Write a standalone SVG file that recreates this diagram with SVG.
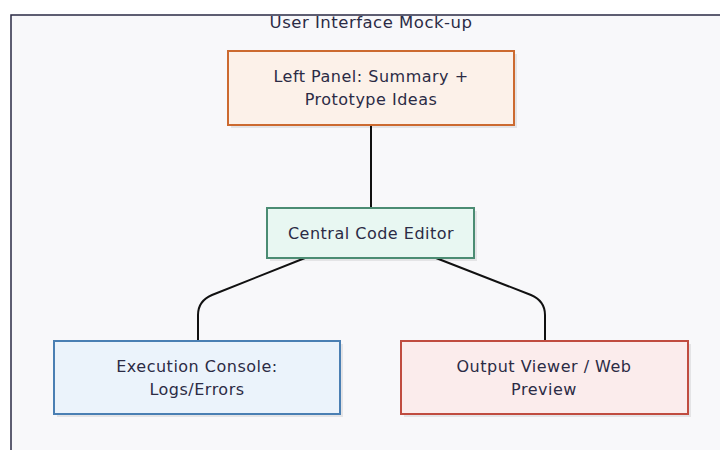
<svg xmlns="http://www.w3.org/2000/svg" width="720" height="450" viewBox="0 0 720 450">
<style>
text{font-family:"DejaVu Sans",sans-serif;font-size:16px;letter-spacing:0.5px;fill:#2b2b45;text-anchor:middle}
.title{font-size:16.5px}
.shadow{fill:#000;opacity:0.08}
.edge{fill:none;stroke:#111;stroke-width:2}
</style>
<rect width="720" height="450" fill="#fff"/>
<rect x="11" y="15" width="720" height="450" fill="#f8f8fa" stroke="#2a2a44" stroke-width="1.5"/>
<text class="title" x="371" y="28">User Interface Mock-up</text>
<g id="connectors">
<path class="edge" d="M371 125 V208"/>
<path class="edge" d="M305 258 L212 295 Q198 301 198 315 V341"/>
<path class="edge" d="M436 258 L531 295 Q545 301 545 315 V341"/>
</g>
<g id="left-panel">
<rect class="shadow" x="231" y="54" width="286" height="74"/>
<rect x="228" y="51" width="286" height="74" fill="#fcf1e9" stroke="#cc6a30" stroke-width="2"/>
<text x="371" y="82">Left Panel: Summary +</text>
<text x="371" y="105">Prototype Ideas</text>
</g>
<g id="central-editor">
<rect class="shadow" x="270" y="211" width="207" height="50"/>
<rect x="267" y="208" width="207" height="50" fill="#e8f7f2" stroke="#4b8c73" stroke-width="2"/>
<text x="371" y="239">Central Code Editor</text>
</g>
<g id="execution-console">
<rect class="shadow" x="57" y="344" width="286" height="73"/>
<rect x="54" y="341" width="286" height="73" fill="#ebf3fb" stroke="#4a7fb3" stroke-width="2"/>
<text x="197" y="372">Execution Console:</text>
<text x="197" y="395">Logs/Errors</text>
</g>
<g id="output-viewer">
<rect class="shadow" x="404" y="344" width="287" height="73"/>
<rect x="401" y="341" width="287" height="73" fill="#fbecec" stroke="#c04c40" stroke-width="2"/>
<text x="544" y="372">Output Viewer / Web</text>
<text x="544" y="395">Preview</text>
</g>
</svg>
